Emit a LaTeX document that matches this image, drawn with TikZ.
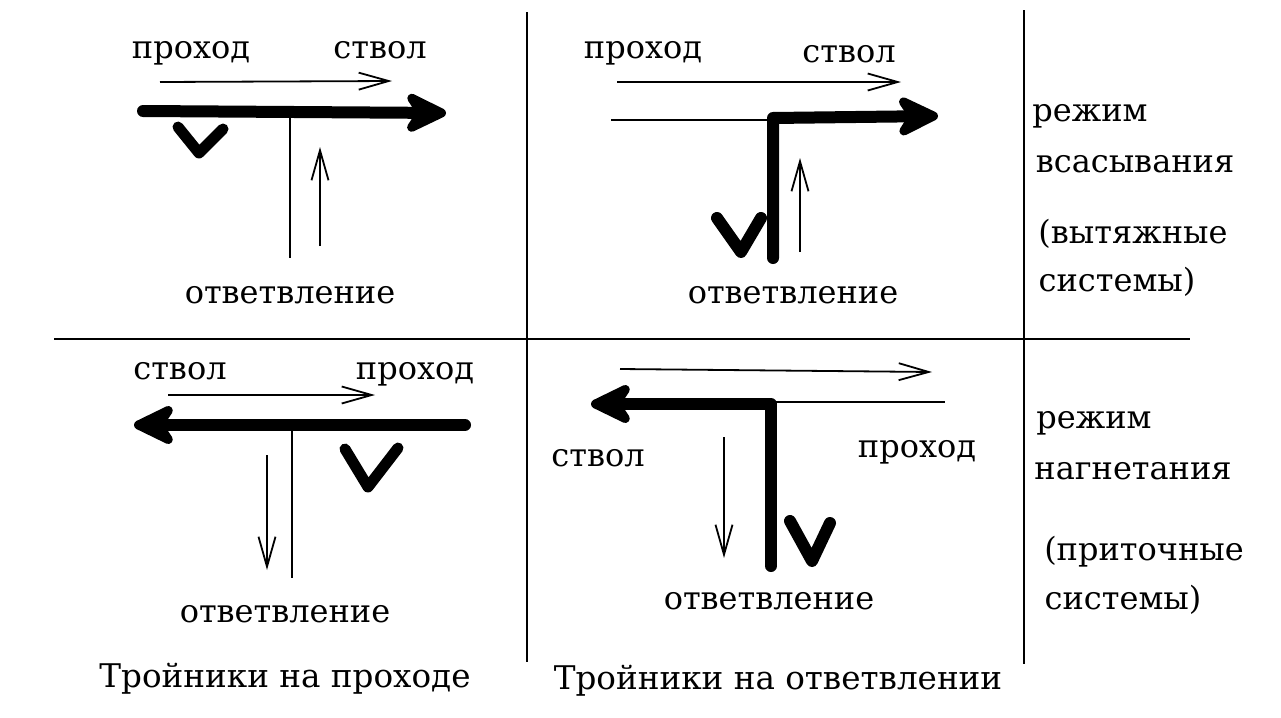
\documentclass[tikz,border=0pt]{standalone}
\usepackage{fontspec}
\setmainfont{DejaVu Serif}
\usetikzlibrary{arrows.meta}
\tikzstyle{label} = [inner sep=0pt, yshift=-1.5pt, font=\fontsize{16}{18}\selectfont]
\tikzstyle{title} = [inner sep=0pt, yshift=-1pt, font=\fontsize{16.3}{19}\selectfont]
\tikzstyle{grid} = [line width=1.1pt]
\tikzstyle{thin} = [line width=1.1pt]
\tikzstyle{flow} = [line width=0.9pt, -{Straight Barb[length=15pt, width=8.5pt]}]
\tikzstyle{duct} = [line width=6pt, line join=round, line cap=round]
\tikzstyle{main} = [duct, -{Stealth[length=26pt, width=25pt, inset=8pt, round]}]
\tikzstyle{damper} = [line width=5.5pt, line join=round, line cap=round]

\begin{document}
\begin{tikzpicture}[x=0.5pt, y=-0.5pt]
		\useasboundingbox (0,0) rectangle (1281,718);
		
		% grid
		\coordinate (g1a) at (527,12);
		\coordinate (g1b) at (527,662);
		\coordinate (g2a) at (1024,10);
		\coordinate (g2b) at (1024,664);
		\coordinate (g3a) at (54,339);
		\coordinate (g3b) at (1190,339);
		\draw [grid] (g1a) -- (g1b);
		\draw [grid] (g2a) -- (g2b);
		\draw [grid] (g3a) -- (g3b);
		
		% top left
		\node (pass1) [label] at (191,50) {проход};
		\node (trunk1) [label] at (380,47) {ствол};
		\node (branch1) [label] at (290,292) {ответвление};
		\coordinate (f1a) at (160,82);
		\coordinate (f1b) at (392,81);
		\coordinate (m1a) at (143,111);
		\coordinate (m1b) at (446,113);
		\coordinate (s1a) at (290,112);
		\coordinate (s1b) at (290,258);
		\coordinate (f2a) at (320,246);
		\coordinate (f2b) at (320,147);
		\draw [flow] (f1a) -- (f1b);
		\draw [main] (m1a) -- (m1b);
		\draw [thin] (s1a) -- (s1b);
		\draw [flow] (f2a) -- (f2b);
		\draw [damper] (178,127) -- (199,153) -- (223,129);
		
		% top right
		\node (pass2) [label] at (643,50) {проход};
		\node (trunk2) [label] at (849,51) {ствол};
		\node (branch2) [label] at (793,292) {ответвление};
		\coordinate (f3a) at (617,82);
		\coordinate (f3b) at (901,82);
		\coordinate (s2a) at (611,120);
		\coordinate (s2b) at (772,120);
		\coordinate (m2a) at (773,258);
		\coordinate (m2b) at (773,118);
		\coordinate (m2c) at (938,116);
		\coordinate (f4a) at (800,252);
		\coordinate (f4b) at (800,158);
		\draw [flow] (f3a) -- (f3b);
		\draw [thin] (s2a) -- (s2b);
		\draw [main] (m2a) -- (m2b) -- (m2c);
		\draw [flow] (f4a) -- (f4b);
		\draw [damper, line width=6pt] (717,218) -- (741,252) -- (761,218);
		
		% bottom left
		\node (trunk3) [label] at (180,368) {ствол};
		\node (pass3) [label] at (415,371) {проход};
		\node (branch3) [label] at (285,611) {ответвление};
		\coordinate (f5a) at (168,395);
		\coordinate (f5b) at (375,395);
		\coordinate (m3a) at (465,425);
		\coordinate (m3b) at (134,425);
		\coordinate (s3a) at (292,425);
		\coordinate (s3b) at (292,578);
		\coordinate (f6a) at (267,455);
		\coordinate (f6b) at (267,570);
		\draw [flow] (f5a) -- (f5b);
		\draw [main] (m3a) -- (m3b);
		\draw [thin] (s3a) -- (s3b);
		\draw [flow] (f6a) -- (f6b);
		\draw [damper] (345,449) -- (368,487) -- (398,448);
		
		% bottom right
		\node (trunk4) [label] at (598,455) {ствол};
		\node (pass4) [label] at (917,449) {проход};
		\node (branch4) [label] at (769,598) {ответвление};
		\coordinate (f7a) at (620,369);
		\coordinate (f7b) at (932,372);
		\coordinate (s4a) at (773,402);
		\coordinate (s4b) at (945,402);
		\coordinate (m4a) at (771,566);
		\coordinate (m4b) at (771,404);
		\coordinate (m4c) at (591,404);
		\coordinate (f8a) at (724,437);
		\coordinate (f8b) at (724,558);
		\draw [flow] (f7a) -- (f7b);
		\draw [thin] (s4a) -- (s4b);
		\draw [main] (m4a) -- (m4b) -- (m4c);
		\draw [flow] (f8a) -- (f8b);
		\draw [damper, line width=6pt] (790,521) -- (812,561) -- (830,523);
		
		% right column
		\node (mode1) [label] at (1090,113) {режим};
		\node (suck) [label] at (1135,161) {всасывания};
		\node (exh1) [label] at (1133,231) {(вытяжные};
		\node (exh2) [label] at (1117,279) {системы)};
		\node (mode2) [label] at (1094,420) {режим};
		\node (press) [label] at (1133,468) {нагнетания};
		\node (sup1) [label] at (1144,549) {(приточные};
		\node (sup2) [label] at (1123,597) {системы)};
		
		% bottom titles
		\node (tee1) [title] at (285,677) {Тройники на проходе};
		\node (tee2) [title] at (778,679) {Тройники на ответвлении};
		
	\end{tikzpicture}
\end{document}
